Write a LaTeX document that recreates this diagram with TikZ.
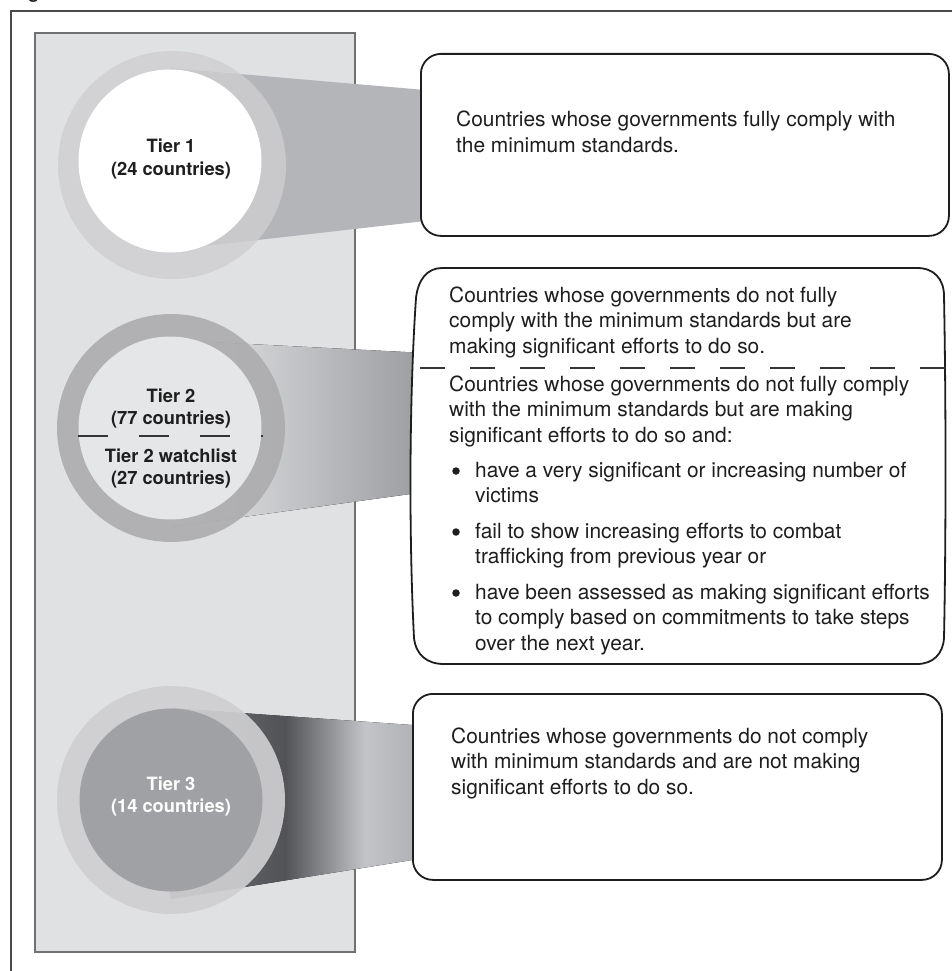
\documentclass[tikz,border=0pt]{standalone}
\usepackage{fontspec}
\setmainfont{TeX Gyre Heros}
\definecolor{panelfill}{HTML}{E0E1E3}
\definecolor{panelline}{HTML}{707070}
\definecolor{frameline}{HTML}{4A4A4A}
\definecolor{ringA}{HTML}{CFCFD1}
\definecolor{ringB}{HTML}{ACACAF}
\definecolor{ringC}{HTML}{CFCFD1}
\definecolor{innerB}{HTML}{E5E6E8}
\definecolor{innerC}{HTML}{A0A1A4}
\definecolor{funA}{HTML}{B4B5B8}
\definecolor{funBl}{HTML}{E8E9EB}
\definecolor{funBr}{HTML}{9B9C9F}
\definecolor{funCa}{HTML}{707174}
\definecolor{funCb}{HTML}{525357}
\definecolor{funCc}{HTML}{C3C4C7}
\definecolor{funCd}{HTML}{B2B3B6}
\definecolor{ink}{HTML}{1E1E1E}
\pgfdeclarehorizontalshading{funCshade}{100bp}{color(0bp)=(funCa); color(25bp)=(funCa); color(48.8bp)=(funCb); color(65.3bp)=(funCc); color(75bp)=(funCd); color(100bp)=(funCd)}
\tikzset{
  ringnode/.style={circle, inner sep=0pt, minimum size=228pt},
  innernode/.style={circle, inner sep=0pt, minimum size=183pt},
  boxline/.style={draw=ink, line width=1.8pt, fill=white},
  tbox/.style={boxline, rounded corners=20pt, inner sep=0pt, anchor=north west},
  bodytext/.style={font=\fontsize{20.9pt}{25.5pt}\selectfont, text=ink, align=left, inner sep=0pt, anchor=base west},
  tiertext/.style={font=\bfseries\fontsize{18.3pt}{22pt}\selectfont, align=center, inner sep=0pt, anchor=base},
  bulletdot/.style={circle, fill=ink, inner sep=0pt, minimum size=7.5pt},
  divider/.style={draw=ink!90, line width=1.2pt}
}
\begin{document}
\begin{tikzpicture}[x=1pt, y=-1pt]
\useasboundingbox (0,0) rectangle (952,971);
\clip (0,0) rectangle (952,971);
\fill[white] (0,0) rectangle (952,971);
% heading fragment
\node[anchor=base west, inner sep=0pt, font=\bfseries\fontsize{18pt}{20pt}\selectfont, text=ink] (fig) at (28,-1) {g};
% outer frame
\draw[frameline, line width=1.3pt] (11,1000) -- (11,11) -- (980,11);
% panel
\filldraw[fill=panelfill, draw=panelline, line width=1.4pt] (35,33) rectangle (355,952);
% funnels
\fill[funA] (170,68) -- (425,90) -- (425,221) -- (170,250) -- cycle;
\fill[left color=funBl, right color=funBr] (170,340) -- (425,353) -- (425,492) -- (170,527) -- cycle;
\fill[shading=funCshade] (170,708) -- (412,725) -- (412,860) -- (170,899) -- cycle;
% circles
\node[ringnode, fill=ringA, fill opacity=0.78] (r1) at (172,165) {};
\node[innernode, fill=white] (c1) at (170,161) {};
\node[ringnode, fill=ringB, fill opacity=0.9] (r2) at (171,428) {};
\node[innernode, fill=innerB] (c2) at (170,428) {};
\node[ringnode, fill=ringC, fill opacity=0.92] (r3) at (171,800) {};
\node[innernode, fill=innerC] (c3) at (171,800) {};
% circle labels (base = last line)
\node[tiertext, text=ink] (l1) at (171,175) {Tier 1\\(24 countries)};
\node[tiertext, text=ink] (l2) at (171,424) {Tier 2\\(77 countries)};
\draw[divider, dash pattern=on 30pt off 31pt] (78,436) -- (263,436);
\node[tiertext, text=ink] (l2w) at (171,484) {Tier 2 watchlist\\(27 countries)};
\node[tiertext, text=white] (l3) at (171,812) {Tier 3\\(14 countries)};
% boxes
\node[tbox, minimum width=528pt, minimum height=182pt] (b1) at (420,53) {};
\path[boxline] (442,268) -- (917,268)
  .. controls (934,268) and (944,279) .. (944,296)
  .. controls (946,400) and (946,540) .. (944,638)
  .. controls (943,654) and (933,664) .. (917,664)
  -- (444,664)
  .. controls (427,664) and (416,655) .. (414,638)
  .. controls (409,540) and (409,400) .. (416,298)
  .. controls (418,280) and (427,268) .. (442,268) -- cycle;
\coordinate (b2) at (679,466);
\node[tbox, minimum width=529pt, minimum height=186pt] (b3) at (412,693) {};
% box texts (base = last line)
\node[bodytext] (t1) at (456,152) {Countries whose governments fully comply with\\the minimum standards.};
\node[bodytext] (t2a) at (449,353) {Countries whose governments do not fully\\comply with the minimum standards but are\\making significant efforts to do so.};
\draw[divider, dash pattern=on 25pt off 25pt] (420,368) -- (946,368);
\node[bodytext] (t2b) at (449,442) {Countries whose governments do not fully comply\\with the minimum standards but are making\\significant efforts to do so and:};
\node[bulletdot] (d1) at (456,471) {};
\node[bodytext] (i1) at (475,502.5) {have a very significant or increasing number of\\victims};
\node[bulletdot] (d2) at (456,532) {};
\node[bodytext] (i2) at (475,563.5) {fail to show increasing efforts to combat\\trafficking from previous year or};
\node[bulletdot] (d3) at (456,593) {};
\node[bodytext] (i3) at (475,650) {have been assessed as making significant efforts\\to comply based on commitments to take steps\\over the next year.};
\node[bodytext] (t3) at (451,794) {Countries whose governments do not comply\\with minimum standards and are not making\\significant efforts to do so.};
\end{tikzpicture}
\end{document}
